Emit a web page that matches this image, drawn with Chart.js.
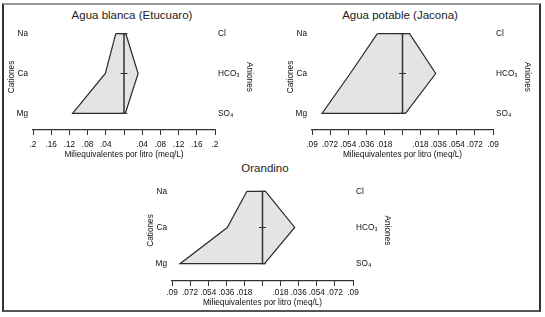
<!DOCTYPE html>
<html lang="es">
<head>
<meta charset="UTF-8">
<title>Diagramas de Stiff</title>
<script src="https://cdn.jsdelivr.net/npm/chart.js"></script>
<style>
    body {
        margin: 0;
        padding: 0;
        background: #fff;
        font-family: 'Liberation Sans', Arial, sans-serif;
    }
    #page {
        position: relative;
        width: 545px;
        height: 317px;
        overflow: hidden;
    }
    .frame {
        position: absolute;
        left: 2px;
        top: 3px;
        width: 539px;
        height: 309px;
        box-sizing: border-box;
        border-left: 2px solid #333;
        border-right: 2px solid #333;
        border-top: 2px solid #9a9a9a;
        border-bottom: 2px solid #555;
    }
    canvas { position: absolute; }
    .ptitle {
        position: absolute;
        width: 200px;
        text-align: center;
        font-size: 11.5px;
        line-height: 14px;
        color: #222;
    }
</style>
</head>
<body>
<div id="page">
    <div class="frame"></div>
    <div class="ptitle" style="left:32px;top:8px">Agua blanca (Etucuaro)</div>
    <div class="ptitle" style="left:300px;top:8px">Agua potable (Jacona)</div>
    <div class="ptitle" style="left:165px;top:161px">Orandino</div>
    <canvas id="c1" width="264" height="162" style="left:0px;top:0px"></canvas>
    <canvas id="c2" width="263" height="162" style="left:279px;top:0px"></canvas>
    <canvas id="c3" width="263" height="143" style="left:139px;top:170px"></canvas>
</div>
<script>
// rows (top to bottom) and their labels
const rowValues = [3, 2, 1];
const cationLabels = ['Na', 'Ca', 'Mg'];
const anionLabels = ['Cl', 'HCO₃', 'SO₄'];

// meq/L, same order as the labels
const etucuaroCations = [0.018, 0.041, 0.113];
const etucuaroAnions = [0.004, 0.031, 0.003];
const jaconaCations = [0.025, 0.052, 0.080];
const jaconaAnions = [0.007, 0.033, 0.003];
const orandinoCations = [0.0155, 0.035, 0.082];
const orandinoAnions = [0.003, 0.032, 0.002];

// x axis ticks
const ticksWide = [-0.2, -0.16, -0.12, -0.08, -0.04, 0, 0.04, 0.08, 0.12, 0.16, 0.2];
const ticksWideLabels = ['.2', '.16', '.12', '.08', '.04', '', '.04', '.08', '.12', '.16', '.2'];
const ticksNarrow = [-0.09, -0.072, -0.054, -0.036, -0.018, 0, 0.018, 0.036, 0.054, 0.072, 0.09];
const ticksNarrowLabels = ['.09', '.072', '.054', '.036', '.018', '', '.018', '.036', '.054', '.072', '.09'];

const FONT = "'Liberation Sans', Arial, sans-serif";
const small = {family: FONT, size: 8.25};
const ink = '#111';

function stiffPoints(cations, anions) {
    const pts = cations.map((v, i) => ({x: -v, y: rowValues[i]}));
    for (let i = anions.length - 1; i >= 0; i--) {
        pts.push({x: anions[i], y: rowValues[i]});
    }
    pts.push({x: -cations[0], y: rowValues[0]});
    return pts;
}

function makePanel(id, cations, anions, tickVals, tickLabels, opt) {
    const lim = tickVals[tickVals.length - 1];
    new Chart(document.getElementById(id), {
        type: 'line',
        data: {
            datasets: [
                {
                    // centre line with small row marks
                    data: rowValues.map(v => ({x: 0, y: v})),
                    borderColor: '#333',
                    borderWidth: 1.5,
                    pointStyle: 'line',
                    pointRadius: 3.5,
                    pointBorderColor: '#333',
                    pointBorderWidth: 1,
                    fill: false
                },
                {
                    data: stiffPoints(cations, anions),
                    borderColor: '#2b2b2b',
                    borderWidth: 1.2,
                    borderJoinStyle: 'miter',
                    backgroundColor: '#e4e4e6',
                    fill: 'shape',
                    pointRadius: 0,
                    tension: 0
                }
            ]
        },
        options: {
            responsive: false,
            animation: false,
            devicePixelRatio: 1,
            layout: {padding: {top: opt.padTop, left: 0, right: 0, bottom: 0}},
            plugins: {legend: {display: false}, tooltip: {enabled: false}},
            scales: {
                x: {
                    type: 'linear',
                    min: -lim,
                    max: lim,
                    afterBuildTicks: s => { s.ticks = tickVals.map(v => ({value: v})); },
                    afterFit: s => { s.height = opt.xHeight; },
                    grid: {display: true, drawOnChartArea: false, drawTicks: true, tickLength: 5, color: '#333', lineWidth: 1},
                    border: {display: true, color: '#333', width: 1.2},
                    ticks: {
                        autoSkip: false,
                        maxRotation: 0,
                        padding: opt.tickPad,
                        font: small,
                        color: ink,
                        callback: v => {
                            const i = tickVals.findIndex(t => Math.abs(t - v) < 1e-9);
                            return i < 0 ? '' : tickLabels[i];
                        }
                    },
                    title: {
                        display: true,
                        text: 'Miliequivalentes por litro (meq/L)',
                        font: small,
                        color: ink,
                        padding: {top: 0, bottom: opt.titlePad}
                    }
                },
                y: {
                    type: 'linear',
                    position: 'left',
                    min: opt.yMin,
                    max: opt.yMax,
                    afterBuildTicks: s => { s.ticks = rowValues.map(v => ({value: v})); },
                    afterFit: s => { s.width = 33; },
                    grid: {display: false, drawTicks: false},
                    border: {display: false},
                    ticks: {
                        autoSkip: false,
                        padding: 5,
                        font: small,
                        color: ink,
                        callback: v => cationLabels[rowValues.indexOf(v)]
                    },
                    title: {display: true, text: 'Cationes', font: small, color: ink, padding: {top: 7, bottom: 0}}
                },
                y2: {
                    type: 'linear',
                    position: 'right',
                    min: opt.yMin,
                    max: opt.yMax,
                    afterBuildTicks: s => { s.ticks = rowValues.map(v => ({value: v})); },
                    afterFit: s => { s.width = 49; },
                    grid: {display: false, drawTicks: false},
                    border: {display: false},
                    ticks: {
                        autoSkip: false,
                        padding: 3,
                        font: small,
                        color: ink,
                        callback: v => anionLabels[rowValues.indexOf(v)]
                    },
                    title: {display: true, text: 'Aniones', font: small, color: ink, padding: {top: 10, bottom: 0}}
                }
            }
        }
    });
}

makePanel('c1', etucuaroCations, etucuaroAnions, ticksWide, ticksWideLabels,
    {padTop: 24, xHeight: 32, tickPad: 4.5, titlePad: 2.75, yMin: 0.58, yMax: 3.244});
makePanel('c2', jaconaCations, jaconaAnions, ticksNarrow, ticksNarrowLabels,
    {padTop: 24, xHeight: 32, tickPad: 4.5, titlePad: 2.75, yMin: 0.58, yMax: 3.244});
makePanel('c3', orandinoCations, orandinoAnions, ticksNarrow, ticksNarrowLabels,
    {padTop: 10, xHeight: 32, tickPad: 2, titlePad: 5, yMin: 0.522, yMax: 3.312});
</script>
</body>
</html>
